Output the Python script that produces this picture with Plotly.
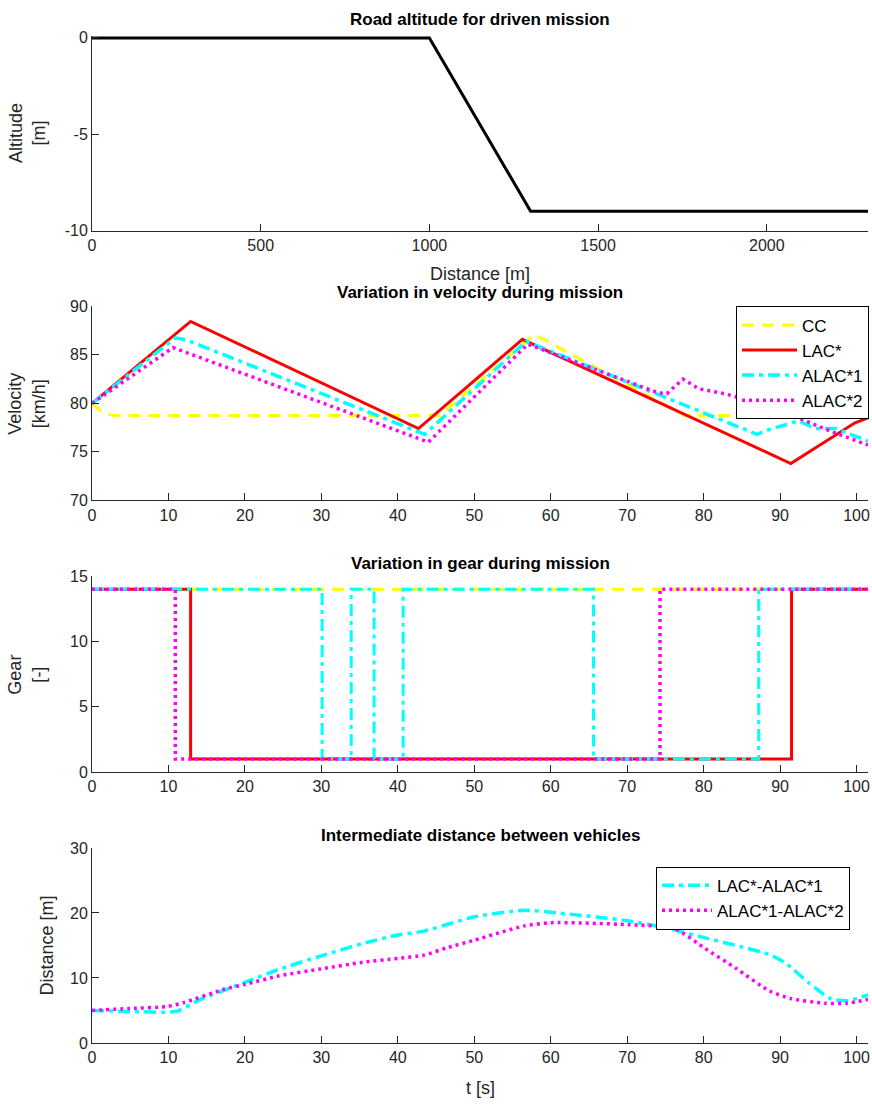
import plotly.graph_objects as go

# ---- road profile ----
road_dist = [0, 1000, 1300, 2300]
road_alt = [0, 0, -9, -9]
alt_ticks = [-10, -5, 0]
alt_ticktext = ["-10", "-5", "0"]

# ---- velocity traces [km/h] ----
t_cc = [0, 1, 2, 3, 45.5, 57.9, 77.5, 101.5]
v_cc = [80, 79.3, 78.9, 78.75, 78.75, 87.1, 78.75, 78.75]

t_lac = [0, 12.9, 42.7, 56.3, 91.4, 99.8, 101.5]
v_lac = [80, 88.45, 77.4, 86.6, 73.8, 78.0, 78.5]

t_alac1 = [0, 10.9, 12.5, 43.5, 56.8, 87.0, 88.2, 92.4, 94.6, 97.3, 101.5]
v_alac1 = [80, 86.75, 86.5, 76.8, 86.4, 76.8, 77.2, 78.2, 77.4, 77.4, 76.1]

t_alac2 = [0, 10.6, 44.0, 57.0, 74.0, 75.2, 77.3, 79.4, 82.7, 85.0, 88.1, 92.4, 96.7, 101.5]
v_alac2 = [80, 85.75, 76.0, 86.1, 81.1, 81.0, 82.5, 81.5, 81.0, 80.5, 79.3, 78.5, 77.1, 75.7]

# ---- gear selection (step signals) ----
gt_cc = [0, 101.5]
g_cc = [14, 14]
gt_lac = [0, 12.9, 91.5, 101.5]
g_lac = [14, 1, 14, 14]
gt_alac1 = [0, 30.1, 33.9, 36.9, 40.7, 65.6, 87.2, 101.5]
g_alac1 = [14, 1, 14, 1, 14, 1, 14, 14]
gt_alac2 = [0, 10.9, 74.3, 101.5]
g_alac2 = [14, 1, 14, 14]

# ---- inter-vehicle distance [m] ----
dt_1 = [0, 5, 11, 14.2, 20, 24.4, 30, 35.4, 40, 43.4, 50, 56.5, 60.9, 70.1, 75.4,
        80.1, 84.9, 88.6, 90.7, 93.7, 96.6, 98.8, 101.5]
d_1 = [5.0, 4.85, 4.85, 6.7, 9.3, 11.3, 13.4, 15.3, 16.6, 17.2, 19.4, 20.4, 20.0, 18.8, 17.6,
       16.2, 14.8, 13.6, 12.3, 9.3, 6.8, 6.5, 7.4]
dt_2 = [0, 5, 9.8, 12, 17.1, 20, 24.4, 30, 35.4, 40, 43.4, 46.3, 50, 56.5, 60.1, 70.1,
        76.2, 80.1, 84.2, 88.6, 91.5, 95.9, 98.8, 101.5]
d_2 = [5.0, 5.3, 5.6, 6.2, 8.2, 9.0, 10.3, 11.4, 12.4, 13.0, 13.5, 14.6, 15.8, 18.0, 18.5, 18.2,
       17.6, 14.6, 11.5, 8.0, 6.8, 6.1, 6.1, 6.7]

W, H = 872, 1111
L, R = 92, 4
FONT = "Liberation Sans, Arial, sans-serif"
AX = "#262626"

YELLOW, RED, CYAN, MAGENTA = "#ffff00", "#ff0000", "#00ffff", "#ff00ff"
DASH_CC = "12px,8px"
DASH_A1 = "12px,5px,4px,5px"
DASH_A2 = "3px,4px"


def py(y):
    return 1 - y / H


def px(x):
    return (x - L) / (W - L - R)


fig = go.Figure()

# altitude
fig.add_trace(go.Scatter(x=road_dist, y=road_alt, mode="lines", xaxis="x", yaxis="y",
                         line=dict(color="black", width=3), showlegend=False))

# velocity
vel = [
    ("CC", t_cc, v_cc, YELLOW, DASH_CC, 3),
    ("LAC*", t_lac, v_lac, RED, "solid", 3),
    ("ALAC*1", t_alac1, v_alac1, CYAN, DASH_A1, 3.5),
    ("ALAC*2", t_alac2, v_alac2, MAGENTA, DASH_A2, 3.5),
]
for name, t, v, c, d, w in vel:
    fig.add_trace(go.Scatter(x=t, y=v, name=name, mode="lines", xaxis="x2", yaxis="y2",
                             line=dict(color=c, dash=d, width=w), legend="legend"))

# gear
gear = [
    (gt_cc, g_cc, YELLOW, DASH_CC, 3),
    (gt_lac, g_lac, RED, "solid", 3),
    (gt_alac1, g_alac1, CYAN, DASH_A1, 3),
    (gt_alac2, g_alac2, MAGENTA, DASH_A2, 3.5),
]
for t, g, c, d, w in gear:
    fig.add_trace(go.Scatter(x=t, y=g, mode="lines", xaxis="x3", yaxis="y3", showlegend=False,
                             line=dict(color=c, dash=d, width=w, shape="hv")))

# distance
fig.add_trace(go.Scatter(x=dt_1, y=d_1, name="LAC*-ALAC*1", mode="lines", xaxis="x4", yaxis="y4",
                         line=dict(color=CYAN, dash=DASH_A1, width=3.5, shape="spline", smoothing=0.6),
                         legend="legend2"))
fig.add_trace(go.Scatter(x=dt_2, y=d_2, name="ALAC*1-ALAC*2", mode="lines", xaxis="x4", yaxis="y4",
                         line=dict(color=MAGENTA, dash=DASH_A2, width=3.5, shape="spline", smoothing=0.6),
                         legend="legend2"))

panels = [(28, 226), (303, 500), (577, 776), (853, 1051)]
yranges = [[-10, 0.12], [70, 90], [0, 15], [0, 30]]
ydt = [5, 5, 5, 10]


def xax(rng, dt, anchor):
    return dict(range=rng, dtick=dt, tick0=0, domain=[0, 1], anchor=anchor,
                showline=True, linecolor=AX, linewidth=1, mirror=False,
                ticks="inside", ticklen=7, tickcolor=AX, tickwidth=1,
                showgrid=False, zeroline=False,
                tickfont=dict(family=FONT, size=16, color=AX))


def yax(rng, dt, dom, anchor):
    return dict(range=rng, dtick=dt, tick0=0, domain=dom, anchor=anchor,
                showline=True, linecolor=AX, linewidth=1, mirror=False,
                ticks="inside", ticklen=7, tickcolor=AX, tickwidth=1,
                showgrid=False, zeroline=False,
                tickfont=dict(family=FONT, size=16, color=AX))


layout = dict(width=W, height=H, margin=dict(l=L, r=R, t=0, b=0),
              paper_bgcolor="white", plot_bgcolor="white",
              font=dict(family=FONT, color=AX))
ids = ["", "2", "3", "4"]
for i, (top, bot) in enumerate(panels):
    dom = [py(bot), py(top)]
    layout["xaxis" + ids[i]] = xax([0, 2300] if i == 0 else [0, 101.5], 500 if i == 0 else 10,
                                   "y" + ids[i])
    layout["yaxis" + ids[i]] = yax(yranges[i], ydt[i], dom, "x" + ids[i])

# altitude ticks keep a plain hyphen for negative values
layout["yaxis"].update(tickmode="array", tickvals=alt_ticks, ticktext=alt_ticktext)

layout["legend"] = dict(x=px(869), y=py(303), xanchor="right", yanchor="top",
                        bgcolor="white", bordercolor="black", borderwidth=1,
                        font=dict(family=FONT, size=17, color="black"),
                        tracegroupgap=0, itemwidth=55)
layout["legend2"] = dict(x=px(850), y=py(872), xanchor="right", yanchor="top",
                         bgcolor="white", bordercolor="black", borderwidth=1,
                         font=dict(family=FONT, size=17, color="black"),
                         tracegroupgap=0, itemwidth=50)

ann = []
titles = [("Road altitude for driven mission", 12), ("Variation in velocity during mission", 289),
          ("Variation in gear during mission", 564), ("Intermediate distance between vehicles", 840)]
for text, y in titles:
    ann.append(dict(text="<b>%s</b>" % text, x=0.5, y=py(y), xref="paper", yref="paper",
                    xanchor="center", yanchor="middle", showarrow=False,
                    font=dict(family=FONT, size=17, color="black")))

ylabels = [("Altitude<br>[m]", 27, 127), ("Velocity<br>[km/h]", 27, 402),
           ("Gear<br>[-]", 27, 677), ("Distance [m]", 47, 952)]
for text, x, y in ylabels:
    ann.append(dict(text=text, x=px(x), y=py(y), xref="paper", yref="paper", textangle=-90,
                    xanchor="center", yanchor="middle", showarrow=False,
                    font=dict(family=FONT, size=18, color=AX)))

xlabels = [("Distance [m]", 270), ("t [s]", 1097)]
for text, y in xlabels:
    ann.append(dict(text=text, x=0.5, y=py(y), xref="paper", yref="paper",
                    xanchor="center", yanchor="middle", showarrow=False,
                    font=dict(family=FONT, size=18, color=AX)))
layout["annotations"] = ann

fig.update_layout(**layout)
fig.write_html("out.html")
